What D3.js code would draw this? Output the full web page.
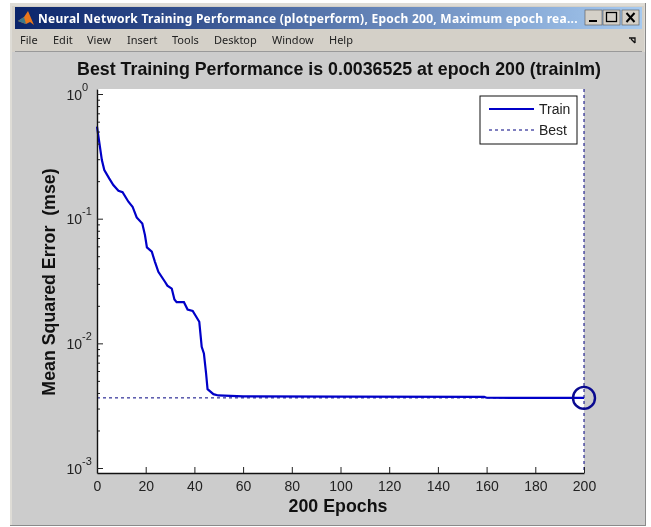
<!DOCTYPE html>
<html>
<head>
<meta charset="utf-8">
<script src="https://cdn.jsdelivr.net/npm/d3@7"></script>
<style>
	html, body { margin: 0; padding: 0; background: #fff; }
	svg { display: block; filter: blur(0.35px); }
	text { font-family: "Liberation Sans", Arial, sans-serif; }
</style>
</head>
<body>
<div id="chart"></div>
<script>
const epochs = [0, 1, 2, 3, 5, 6.7, 8.8, 10.5, 12.9, 14.6, 16.3, 18.6, 19.7, 20.5, 22.5, 23.8, 25.2, 27.9, 28.9, 30.7, 31.8, 32.7, 35.7, 37.2, 39.3, 42, 43, 43.9, 44.8, 45.4, 47.8, 49.8, 60, 100, 159, 160, 200];
const trainMse = [0.547, 0.402, 0.295, 0.2455, 0.2105, 0.186, 0.1676, 0.1634, 0.1368, 0.1247, 0.1023, 0.0916, 0.0738, 0.0588, 0.0543, 0.0451, 0.0375, 0.0312, 0.029, 0.0275, 0.0225, 0.0214, 0.0214, 0.0187, 0.0182, 0.0149, 0.00938, 0.0083, 0.00573, 0.00429, 0.00391, 0.00382, 0.00376, 0.00374, 0.00372, 0.00366, 0.0036525];
const bestEpoch = 200;
const bestMse = 0.0036525;
const xTicks = [0, 20, 40, 60, 80, 100, 120, 140, 160, 180, 200];
const yDecades = [1, 0.1, 0.01, 0.001];
const yDecadeExp = [0, -1, -2, -3];
const yMinor = [0.9, 0.8, 0.7, 0.6, 0.5, 0.4, 0.3, 0.2, 0.09, 0.08, 0.07, 0.06, 0.05, 0.04, 0.03, 0.02, 0.009, 0.008, 0.007, 0.006, 0.005, 0.004, 0.003, 0.002];
const legendItems = ["Train", "Best"];
const windowTitle = "Neural Network Training Performance (plotperform), Epoch 200, Maximum epoch rea...";
const menuItems = ["File", "Edit", "View", "Insert", "Tools", "Desktop", "Window", "Help"];
const menuX = [20, 53, 87, 127, 172, 214, 272, 329];

const width = 651, height = 527;
const margin = {left: 97, right: 584, top: 89, bottom: 473};

const svg = d3.select('#chart').append('svg')
	.attr('width', width)
	.attr('height', height);

// window frame
svg.append('rect').attr('x', 10).attr('y', 3).attr('width', 636).attr('height', 523).attr('fill', '#8a8a8a');
svg.append('rect').attr('x', 10).attr('y', 3).attr('width', 635).attr('height', 522).attr('fill', '#dedcd6');
svg.append('rect').attr('x', 12).attr('y', 52).attr('width', 633).attr('height', 473).attr('fill', '#cccccc');
svg.append('rect').attr('x', 12).attr('y', 6).attr('width', 632).attr('height', 46).attr('fill', '#d4d0c8');

const grad = svg.append('defs').append('linearGradient').attr('id', 'titlebar');
grad.append('stop').attr('offset', '0').attr('stop-color', '#0a246a');
grad.append('stop').attr('offset', '1').attr('stop-color', '#a6caf0');
svg.append('rect').attr('x', 15).attr('y', 7).attr('width', 627).attr('height', 22).attr('fill', 'url(#titlebar)');

// matlab icon
svg.append('path').attr('d', 'M18 21 L24 17 L28 11 L34 25 L30 22 L26 24 Z').attr('fill', '#e8761c');
svg.append('path').attr('d', 'M18 21 L24 17 L26 24 Z').attr('fill', '#3a7a8c');

svg.append('text')
	.attr('x', 38).attr('y', 23)
	.attr('fill', '#fff')
	.style('font-family', '"Noto Sans", sans-serif')
	.style('font-weight', 700)
	.style('font-size', '12px')
	.style('letter-spacing', '0.26px')
	.text(windowTitle);

// window buttons
[585, 603, 622].forEach((x, i) => {
	const b = svg.append('g').attr('transform', `translate(${x},10)`);
	b.append('rect').attr('width', 17).attr('height', 15).attr('fill', '#d4d0c8').attr('stroke', '#555').attr('stroke-width', 0.6);
	if (i == 0) b.append('rect').attr('x', 4).attr('y', 10).attr('width', 8).attr('height', 2).attr('fill', '#000');
	if (i == 1) b.append('rect').attr('x', 3.5).attr('y', 2.5).attr('width', 10).attr('height', 9).attr('fill', 'none').attr('stroke', '#000').attr('stroke-width', 1.3);
	if (i == 2) b.append('path').attr('d', 'M4.5 3 L12.5 12 M12.5 3 L4.5 12').attr('stroke', '#000').attr('stroke-width', 2);
});

// menu bar
svg.append('g').selectAll('text').data(menuItems).join('text')
	.attr('x', (d, i) => menuX[i])
	.attr('y', 44)
	.attr('fill', '#222')
	.style('font-family', '"Noto Sans", sans-serif')
	.style('font-size', '11px')
	.text(d => d);
svg.append('path').attr('d', 'M629 38 L635 38 L635 43 M631 39 L635 43').attr('fill', 'none').attr('stroke', '#111').attr('stroke-width', 1.3);
svg.append('line').attr('x1', 15).attr('x2', 642).attr('y1', 51.5).attr('y2', 51.5).attr('stroke', '#999');

const xScale = d3.scaleLinear()
	.domain([0, 200])
	.range([margin.left, margin.right]);
// the axes run a little past the 10^0 and 10^-3 ticks
const yScale = d3.scaleLog()
	.domain([1.097, 0.000912])
	.range([margin.top, margin.bottom]);

svg.append('rect')
	.attr('x', margin.left).attr('y', margin.top)
	.attr('width', margin.right - margin.left)
	.attr('height', margin.bottom - margin.top)
	.attr('fill', '#fff');

// best lines
const bestG = svg.append('g').attr('fill', 'none').attr('stroke', '#000080').attr('stroke-width', 1).attr('stroke-dasharray', '3,3');
bestG.append('line')
	.attr('x1', xScale(0)).attr('x2', xScale(bestEpoch))
	.attr('y1', yScale(bestMse)).attr('y2', yScale(bestMse));
bestG.append('line')
	.attr('x1', xScale(bestEpoch)).attr('x2', xScale(bestEpoch))
	.attr('y1', margin.top).attr('y2', margin.bottom);

const line = d3.line()
	.x((d, i) => xScale(epochs[i]))
	.y(d => yScale(d));

svg.append('path')
	.datum(trainMse)
	.attr('d', line)
	.attr('fill', 'none')
	.attr('stroke', '#0000c8')
	.attr('stroke-width', 2.2);

svg.append('circle')
	.attr('cx', xScale(bestEpoch))
	.attr('cy', yScale(bestMse))
	.attr('r', 11)
	.attr('fill', 'none')
	.attr('stroke', '#0a0a90')
	.attr('stroke-width', 2.4);

// axes, ticks point inwards like matlab
const xAxis = svg.append('g')
	.attr('transform', `translate(0,${margin.bottom})`)
	.call(d3.axisBottom(xScale).tickValues(xTicks).tickSize(-6).tickPadding(8).tickSizeOuter(0));
xAxis.selectAll('text').attr('fill', '#222').style('font-size', '14px');

const yAxisMinor = svg.append('g')
	.attr('transform', `translate(${margin.left},0)`)
	.call(d3.axisLeft(yScale).tickValues(yMinor).tickSize(-3).tickFormat('').tickSizeOuter(0));
yAxisMinor.select('.domain').remove();

const yAxis = svg.append('g')
	.attr('transform', `translate(${margin.left},0)`)
	.call(d3.axisLeft(yScale).tickValues(yDecades).tickSize(-6).tickFormat('').tickSizeOuter(0));

yAxis.selectAll('.tick').each(function(d, i) {
	const t = d3.select(this).select('text')
		.attr('x', -15).attr('dy', null).attr('y', 5)
		.attr('text-anchor', 'end')
		.attr('fill', '#222')
		.style('font-size', '14px');
	t.text('10');
	d3.select(this).append('text')
		.attr('x', -15).attr('y', -4)
		.attr('text-anchor', 'start')
		.attr('fill', '#222')
		.style('font-size', '11px')
		.text(yDecadeExp[i]);
});
svg.selectAll('.domain').attr('stroke', '#111').attr('stroke-width', 1.4);
svg.selectAll('.tick line').attr('stroke', '#222');

// titles
svg.append('text')
	.attr('x', 339).attr('y', 75)
	.attr('text-anchor', 'middle')
	.attr('fill', '#111')
	.style('font-weight', 700)
	.style('font-size', '17.8px')
	.text('Best Training Performance is 0.0036525 at epoch 200 (trainlm)');

svg.append('text')
	.attr('x', 338).attr('y', 512)
	.attr('text-anchor', 'middle')
	.attr('fill', '#111')
	.style('font-weight', 700)
	.style('font-size', '17.8px')
	.text('200 Epochs');

svg.append('text')
	.attr('transform', 'translate(55,282) rotate(-90)')
	.attr('text-anchor', 'middle')
	.attr('fill', '#111')
	.style('font-weight', 700)
	.style('font-size', '17.8px')
	.style('white-space', 'pre')
	.text('Mean Squared Error  (mse)');

// legend
const legend = svg.append('g').attr('transform', 'translate(480,96)');
legend.append('rect')
	.attr('x', 0).attr('y', 0).attr('width', 97).attr('height', 48)
	.attr('fill', '#fff').attr('stroke', '#111').attr('stroke-width', 1);
legendItems.forEach((name, i) => {
	const y = 13 + i * 21;
	legend.append('line')
		.attr('x1', 9).attr('x2', 54).attr('y1', y).attr('y2', y)
		.attr('stroke', i == 0 ? '#0000c8' : '#000080')
		.attr('stroke-width', i == 0 ? 2.2 : 1)
		.attr('stroke-dasharray', i == 0 ? null : '3,3');
	legend.append('text')
		.attr('x', 59).attr('y', y + 5)
		.attr('fill', '#222')
		.style('font-size', '14px')
		.text(name);
});
</script>
</body>
</html>
